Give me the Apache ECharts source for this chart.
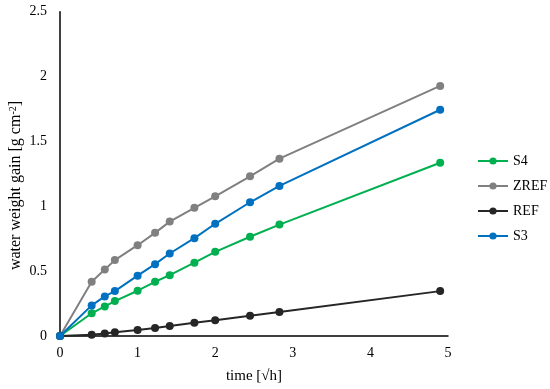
<!DOCTYPE html>
<html>
<head>
<meta charset="utf-8">
<script src="https://cdn.jsdelivr.net/npm/echarts@6/dist/echarts.min.js"></script>
<style>html,body{margin:0;padding:0;background:#fff}#c{width:550px;height:389px}</style>
</head>
<body>
<div id="c"></div>
<script>
var times = [0, 0.408, 0.577, 0.707, 1, 1.225, 1.414, 1.732, 2, 2.449, 2.828, 4.899];
var seriesNames = ['S4', 'ZREF', 'REF', 'S3'];
var S4 = [0, 0.175, 0.228, 0.269, 0.349, 0.418, 0.469, 0.565, 0.649, 0.765, 0.859, 1.336];
var ZREF = [0, 0.418, 0.513, 0.585, 0.700, 0.795, 0.882, 0.988, 1.077, 1.231, 1.367, 1.928];
var REF = [0, 0.010, 0.020, 0.028, 0.046, 0.062, 0.077, 0.103, 0.121, 0.157, 0.185, 0.346];
var S3 = [0, 0.236, 0.305, 0.346, 0.465, 0.554, 0.636, 0.754, 0.865, 1.031, 1.157, 1.744];
var yTicks = ['0', '0.5', '1', '1.5', '2', '2.5'];
var xTicks = ['0', '1', '2', '3', '4', '5'];
var colors = ['#00B050', '#808080', '#262626', '#0070C0'];
var values = [S4, ZREF, REF, S3];

function pairs(v) { return times.map(function (t, i) { return [t, v[i]]; }); }

var font = 'Liberation Serif';
var chart = echarts.init(document.getElementById('c'), null, { renderer: 'canvas' });
chart.setOption({
  animation: false,
  backgroundColor: '#fff',
  textStyle: { fontFamily: font },
  grid: { left: 60, right: 102, top: 11.7, bottom: 52.3, containLabel: false },
  xAxis: {
    type: 'value', min: 0, max: 5, interval: 1,
    name: 'time [√h]', nameLocation: 'middle', nameGap: 33,
    nameTextStyle: { fontFamily: font, fontSize: 15, color: '#000' },
    axisLine: { lineStyle: { color: '#000', width: 1.5 } },
    axisTick: { show: false },
    splitLine: { show: false },
    axisLabel: { fontFamily: font, fontSize: 14, color: '#000', margin: 10,
      formatter: function (v) { var i = xTicks.indexOf(String(v)); return i >= 0 ? xTicks[i] : ''; } }
  },
  yAxis: {
    type: 'value', min: 0, max: 2.5, interval: 0.5,
    axisLine: { show: true, lineStyle: { color: '#000', width: 1.5 } },
    axisTick: { show: false },
    splitLine: { show: false },
    axisLabel: { fontFamily: font, fontSize: 14, color: '#000', margin: 13,
      formatter: function (v) { var i = yTicks.indexOf(String(v)); return i >= 0 ? yTicks[i] : ''; } }
  },
  graphic: [{
    type: 'text', x: 16, y: 185.5, rotation: Math.PI / 2,
    style: {
      text: 'water weight gain [g cm{sup|-2}]',
      font: '16px "Liberation Serif"', fill: '#000',
      align: 'center', verticalAlign: 'middle',
      rich: { sup: { fontSize: 10, fontFamily: font, verticalAlign: 'top', fill: '#000' } }
    }
  }],
  legend: {
    orient: 'vertical', left: 477, top: 153, padding: 0,
    itemWidth: 30, itemHeight: 9, itemGap: 9,
    textStyle: { fontFamily: font, fontSize: 14, color: '#000', lineHeight: 16 },
    data: seriesNames
  },
  series: seriesNames.map(function (n, i) {
    return {
      name: n, type: 'line', data: pairs(values[i]),
      symbol: 'circle', symbolSize: 8, showSymbol: true,
      lineStyle: { color: colors[i], width: 2 },
      itemStyle: { color: colors[i] },
      z: 2 + i
    };
  })
});
</script>
</body>
</html>
